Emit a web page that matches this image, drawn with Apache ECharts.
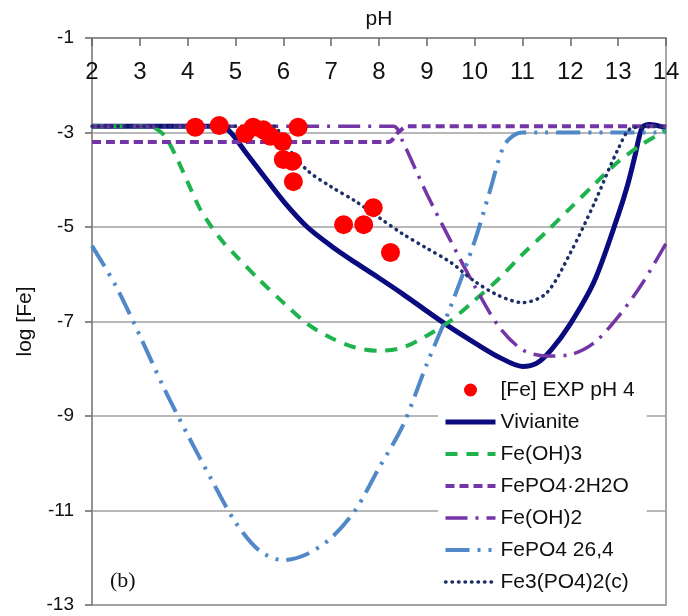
<!DOCTYPE html>
<html>
<head>
<meta charset="utf-8">
<script src="https://cdn.jsdelivr.net/npm/echarts@6/dist/echarts.min.js"></script>
<style>
  html, body { margin: 0; padding: 0; background: #fff; }
  #chart { width: 688px; height: 616px; }
</style>
</head>
<body>
<div id="chart"></div>
<script>
var chartDom = document.getElementById('chart');
var myChart = echarts.init(chartDom);
var option;

// measured points, [pH, log[Fe]]
var expPoints = [
  [4.16, -2.89], [4.66, -2.85], [5.20, -3.02], [5.37, -2.89], [5.58, -2.94],
  [5.73, -3.08], [5.98, -3.19], [6.31, -2.89], [6.00, -3.57], [6.19, -3.61],
  [6.21, -4.04], [7.26, -4.95], [7.68, -4.95], [7.88, -4.59], [8.24, -5.54]
];

var vivianite = [
  [2, -2.87], [4.7, -2.87], [4.9, -3.0], [5.2, -3.4], [5.6, -3.93], [6, -4.45],
  [6.5, -5.0], [7, -5.4], [7.5, -5.75], [8, -6.08], [8.5, -6.42], [9, -6.78],
  [9.5, -7.13], [10, -7.45], [10.5, -7.75], [11, -7.95], [11.3, -7.88],
  [11.6, -7.6], [12, -7.05], [12.5, -6.15], [13, -4.75], [13.2, -4.1],
  [13.35, -3.5], [13.5, -2.9], [13.65, -2.83], [14, -2.9]
];

var feOH3 = [
  [2, -2.87], [3.2, -2.87], [3.45, -3.0], [3.6, -3.2], [3.8, -3.6], [4, -4.05],
  [4.25, -4.6], [4.5, -5.0], [4.75, -5.33], [5, -5.6], [5.5, -6.12], [6, -6.6],
  [6.5, -7.05], [7, -7.35], [7.5, -7.55], [8, -7.62], [8.5, -7.55], [9, -7.3],
  [9.5, -6.98], [10, -6.55], [10.5, -6.1], [11, -5.58], [11.5, -5.1], [12, -4.6],
  [12.5, -4.1], [13, -3.62], [13.5, -3.25], [14, -2.95]
];

var fePO4dihydrate = [
  [2, -3.2], [8.2, -3.2], [8.4, -3.0], [8.6, -2.87], [14, -2.87]
];

var feOH2 = [
  [2, -2.87], [8.3, -2.87], [8.5, -3.2], [8.75, -3.75], [9, -4.3], [9.5, -5.3],
  [10, -6.25], [10.5, -7.1], [11, -7.6], [11.5, -7.73], [12, -7.7], [12.5, -7.45],
  [13, -6.9], [13.5, -6.2], [14, -5.35]
];

var fePO4_264 = [
  [2, -5.4], [2.5, -6.25], [3, -7.3], [3.5, -8.4], [4, -9.4], [4.5, -10.35],
  [5, -11.25], [5.5, -11.85], [6, -12.05], [6.5, -11.92], [7, -11.58], [7.5, -11.0],
  [8, -10.1], [8.5, -9.2], [9, -7.9], [9.5, -6.68], [10, -5.3], [10.3, -4.3],
  [10.6, -3.3], [10.8, -3.07], [11, -3.0], [14, -3.0]
];

var fe3PO42 = [
  [2, -2.87], [5.8, -2.87], [6, -3.2], [6.5, -3.8], [7, -4.15], [7.5, -4.45],
  [8, -4.8], [8.5, -5.15], [9, -5.45], [9.5, -5.75], [10, -6.15], [10.5, -6.45],
  [11, -6.6], [11.5, -6.4], [12, -5.55], [12.5, -4.5], [13, -3.35], [13.3, -2.9],
  [14, -2.87]
];

var yTickValues = [-13, -11, -9, -7, -5, -3, -1];

var font = '"Liberation Sans", Arial, sans-serif';

function lineSeries(name, data, color, width, dash, extra) {
  var s = {
    name: name,
    type: 'line',
    data: data,
    smooth: 0.3,
    symbol: 'none',
    showSymbol: false,
    lineStyle: { color: color, width: width, type: dash },
    itemStyle: { color: color }
  };
  if (extra) Object.assign(s.lineStyle, extra);
  return s;
}

// line entries in the legend show only the stroke
function lineLegend(name) {
  return { name: name, itemStyle: { opacity: 0 } };
}

option = {
  animation: false,
  backgroundColor: '#fff',
  grid: {
    left: 92, right: 22, top: 38, bottom: 11,
    show: true, borderColor: '#8c8c8c', borderWidth: 1.5
  },
  xAxis: {
    type: 'value',
    position: 'top',
    min: 2, max: 14, interval: 1,
    name: 'pH',
    nameLocation: 'middle',
    nameGap: 8,
    nameTextStyle: { fontFamily: font, fontSize: 21, color: '#111', verticalAlign: 'bottom' },
    axisLine: { lineStyle: { color: '#8c8c8c', width: 1.5 } },
    axisTick: { inside: true, length: 8, lineStyle: { color: '#666', width: 1.5 } },
    axisLabel: { inside: true, margin: 22, fontFamily: font, fontSize: 24, color: '#111' },
    splitLine: { show: false }
  },
  yAxis: {
    type: 'value',
    min: -13, max: -1,
    name: 'log [Fe]',
    nameLocation: 'middle',
    nameGap: 56,
    nameRotate: 90,
    nameTextStyle: { fontFamily: font, fontSize: 21, color: '#111' },
    axisLine: { show: true, lineStyle: { color: '#8c8c8c', width: 1.5 } },
    axisTick: { show: true, length: 7, customValues: yTickValues, lineStyle: { color: '#666', width: 1.5 } },
    axisLabel: { margin: 18, customValues: yTickValues, fontFamily: font, fontSize: 19, color: '#111' },
    splitLine: { show: true, lineStyle: { color: '#a0a0a0', width: 1.5 } }
  },
  legend: {
    orient: 'vertical',
    left: 438,
    top: 374,
    padding: [5, 12, 5, 5],
    itemWidth: 50,
    itemHeight: 13,
    itemGap: 10,
    backgroundColor: '#fff',
    lineStyle: { width: 'inherit' },
    textStyle: { fontFamily: font, fontSize: 21, color: '#111', lineHeight: 22 },
    data: [
      '[Fe] EXP pH 4',
      lineLegend('Vivianite'),
      lineLegend('Fe(OH)3'),
      lineLegend('FePO4·2H2O'),
      lineLegend('Fe(OH)2'),
      lineLegend('FePO4 26,4'),
      lineLegend('Fe3(PO4)2(c)')
    ]
  },
  graphic: [
    {
      type: 'text',
      left: 110, top: 570,
      style: { text: '(b)', font: '22px "Liberation Serif", "Times New Roman", serif', fill: '#111' }
    }
  ],
  series: [
    {
      name: '[Fe] EXP pH 4',
      type: 'scatter',
      data: expPoints,
      symbolSize: 19,
      z: 5,
      itemStyle: { color: '#ff0000', opacity: 1 }
    },
    lineSeries('Vivianite', vivianite, '#0b0b80', 5, 'solid'),
    lineSeries('Fe(OH)3', feOH3, '#1fb34e', 4, [12, 9]),
    lineSeries('FePO4·2H2O', fePO4dihydrate, '#7435a6', 4, [9, 5]),
    lineSeries('Fe(OH)2', feOH2, '#7435a6', 3.5, [22, 8, 3, 8]),
    lineSeries('FePO4 26,4', fePO4_264, '#5088c8', 4, [24, 8, 3, 8, 3, 8]),
    lineSeries('Fe3(PO4)2(c)', fe3PO42, '#1c2f66', 3.5, [0.5, 6], { cap: 'round' })
  ]
};

option && myChart.setOption(option);
</script>
</body>
</html>
